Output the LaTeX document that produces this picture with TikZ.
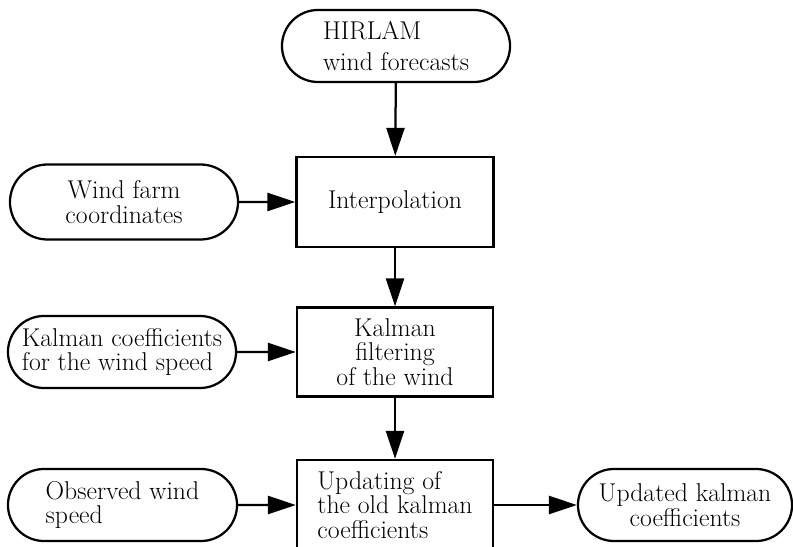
\documentclass[tikz,border=0pt]{standalone}
\usepackage{tikz}
\usetikzlibrary{arrows.meta,shapes.misc}
\tikzset{
	terminal/.style={draw, rounded rectangle, line width=1.6pt, inner sep=0pt, font=\fontsize{18.3}{17.5}\selectfont},
	process/.style={draw, rectangle, line width=1.6pt, inner sep=0pt, font=\fontsize{18.3}{17.5}\selectfont},
	flow/.style={line width=1.6pt, -{Triangle[length=0.7cm,width=0.45cm]}}
}

\begin{document}
\begin{tikzpicture}[x=0.025cm, y=0.025cm]
			%%%%% START %%%%%
			
			\useasboundingbox (0, 0) rectangle (793, 546);
			\clip (0, 0) rectangle (793, 546);
			
			\node[terminal, align=left, minimum width=5.7cm, minimum height=1.8cm] (hirlam) at (396, 500) {HIRLAM\\[4pt]wind forecasts};
			
			\node[terminal, align=center, minimum width=5.7cm, minimum height=1.875cm] (farm) at (124, 344) {Wind farm\\coordinates};
			\node[process, minimum width=4.925cm, minimum height=2.25cm] (interp) at (395, 344) {Interpolation};
			
			\node[terminal, align=left, minimum width=5.7cm, minimum height=1.8cm] (coef) at (122, 194) {Kalman coefficients\\for the wind speed};
			\node[process, align=center, minimum width=4.9cm, minimum height=2.225cm] (kfilter) at (395, 194) {Kalman\\filtering\\of the wind};
			
			\node[terminal, align=left, minimum width=5.725cm, minimum height=1.8cm] (observed) at (122.5, 41) {Observed wind\\speed};
			\node[process, align=left, minimum width=4.9cm, minimum height=2.25cm] (update) at (395, 41) {Updating of\\the old kalman\\coefficients};
			\node[terminal, align=center, minimum width=5.35cm, minimum height=1.8cm] (newcoef) at (685, 41) {Updated kalman\\coefficients};
			
			\draw[flow] (hirlam) -- (interp);
			\draw[flow] (farm) -- (interp);
			\draw[flow] (interp) -- (kfilter);
			\draw[flow] (coef) -- (kfilter);
			\draw[flow] (kfilter) -- (update);
			\draw[flow] (observed) -- (update);
			\draw[flow] (update) -- (newcoef);
			
			%%%%% END %%%%%
		\end{tikzpicture}
\end{document}
